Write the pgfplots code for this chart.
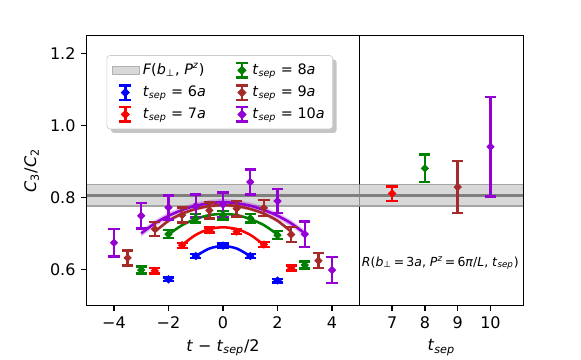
\documentclass[border=0pt]{standalone}
\usepackage{fontspec}
\setmainfont{DejaVu Sans}
\usepackage{amsmath}
\usepackage{pgfplots}
\pgfplotsset{compat=1.18}
\usetikzlibrary{shadows}

\definecolor{mplgreen}{RGB}{0,128,0}
\definecolor{mplbrown}{RGB}{165,42,42}
\definecolor{mplpurple}{RGB}{148,0,211}
\definecolor{bandfill}{RGB}{216,216,216}
\definecolor{bandedge}{RGB}{165,165,165}
\definecolor{bandmid}{RGB}{128,128,128}

% the legend's drop shadow is inherited by the paths inside it; this clears it
\makeatletter
\tikzset{nopreaction/.code={\let\tikz@preactions\pgfutil@empty}}
\makeatother

\pgfplotsset{
  mplaxis/.style={scale only axis, height=168.5pt, ymin=0.5, ymax=1.25,
    axis line style={line width=0.8pt}, tick style={line width=0.8pt, black},
    tick align=outside, major tick length=3.5pt, xtick pos=bottom, ytick pos=left,
    /pgf/number format/assume math mode=true,
    ticklabel style={font=\fontsize{10}{12}\selectfont},
    label style={font=\fontsize{10}{12}\selectfont}},
  errpts/.style={only marks, color=#1, mark=square*, mark size=1.6pt,
    mark options={fill=#1, draw=#1, line width=0.5pt, rotate=45}, forget plot,
    error bars/.cd, y dir=both, y explicit,
    error bar style={line width=1.5pt, color=#1},
    error mark options={rotate=90, line width=1.5pt, mark size=3.5pt, color=#1}},
  fitline/.style={color=#1, line width=1.6pt, smooth, forget plot},
  fitband/.style={fill=#1, fill opacity=0.25, draw=none, forget plot},
}

% legend handle: error bar with a diamond
\newcommand{\errleg}[2]{%
  \addlegendimage{legend image code/.code={%
    \draw[nopreaction,sharp corners,#1,line width=1.5pt] (8.8pt,-4.5pt)--(8.8pt,4.5pt) (5pt,-4.5pt)--(12.6pt,-4.5pt) (5pt,4.5pt)--(12.6pt,4.5pt);
    \fill[nopreaction,sharp corners,#1] (8.8pt,2.6pt)--(11.4pt,0pt)--(8.8pt,-2.6pt)--(6.2pt,0pt)--cycle;}}
  \addlegendentry{#2}}
\newcommand{\tsep}{\textit{t}$_{\textit{sep}}$}

\begin{document}
\begin{tikzpicture}
\path[use as bounding box] (0,0) rectangle (363.125pt,224.375pt);

\begin{axis}[mplaxis, at={(54.19pt,33.56pt)}, anchor=south west, width=170.4pt,
  xmin=-5, xmax=5,
  xtick={-4,-2,0,2,4}, xticklabels={−4,−2,0,2,4},
  ytick={0.6,0.8,1.0,1.2}, yticklabels={0.6,0.8,1.0,1.2},
  xlabel={\textit{t} − \tsep/2},
  ylabel={\textit{C}$_{\text{3}}$/\textit{C}$_{\text{2}}$},
  legend columns=2, legend cell align=left,
  legend style={at={(0.073,0.928)}, anchor=north west,
    font=\fontsize{9}{11}\selectfont, draw=black!20, rounded corners=2pt, fill=white,
    drop shadow={shadow xshift=2.5pt, shadow yshift=-2.5pt, fill=black!45},
    /tikz/every even column/.append style={column sep=16pt},
    row sep=1.5pt, inner sep=3pt},
]
% legend (column-major order as in the reference)
\addlegendimage{legend image code/.code={\filldraw[nopreaction,sharp corners,fill=bandfill,draw=black!30,line width=0.4pt] (0.5pt,-2.2pt) rectangle (17.5pt,2.2pt);}}
\addlegendentry{\textit{F}(\textit{b}$_{\text{⊥}}$, \textit{P}$^{\textit{z}}$)}
\errleg{mplgreen}{\tsep{} = 8\textit{a}}
\errleg{blue}{\tsep{} = 6\textit{a}}
\errleg{mplbrown}{\tsep{} = 9\textit{a}}
\errleg{red}{\tsep{} = 7\textit{a}}
\errleg{mplpurple}{\tsep{} = 10\textit{a}}

% F(b,P) band
\addplot[fill=bandfill, draw=none, forget plot] coordinates {(-5,0.776) (5,0.776) (5,0.836) (-5,0.836)} -- cycle;
\addplot[bandedge, line width=1pt, forget plot] coordinates {(-5,0.776) (5,0.776)};
\addplot[bandedge, line width=1pt, forget plot] coordinates {(-5,0.836) (5,0.836)};
\addplot[bandmid, line width=1.5pt, forget plot] coordinates {(-5,0.806) (5,0.806)};

% fit bands and curves
\addplot[fitband=mplbrown] coordinates {(-2.5,0.710) (-2,0.740) (-1.5,0.760) (-1,0.773) (-0.5,0.781) (0,0.784) (0.5,0.781) (1,0.773) (1.5,0.760) (2,0.740) (2.5,0.710)
  (2.5,0.700) (2,0.730) (1.5,0.750) (1,0.763) (0.5,0.771) (0,0.774) (-0.5,0.771) (-1,0.763) (-1.5,0.750) (-2,0.730) (-2.5,0.700)} -- cycle;
\addplot[fitband=mplpurple] coordinates {(-3,0.709) (-2.5,0.737) (-2,0.758) (-1.5,0.774) (-1,0.786) (-0.5,0.793) (0,0.796) (0.5,0.793) (1,0.786) (1.5,0.774) (2,0.758) (2.5,0.737) (3,0.709)
  (3,0.691) (2.5,0.719) (2,0.740) (1.5,0.756) (1,0.768) (0.5,0.775) (0,0.778) (-0.5,0.775) (-1,0.768) (-1.5,0.756) (-2,0.740) (-2.5,0.719) (-3,0.691)} -- cycle;

\addplot[fitline=blue] coordinates {(-1,0.637) (-0.5,0.658) (0,0.665) (0.5,0.658) (1,0.637)};
\addplot[fitline=red] coordinates {(-1.5,0.668) (-1,0.696) (-0.5,0.712) (0,0.717) (0.5,0.712) (1,0.696) (1.5,0.668)};
\addplot[fitline=mplgreen] coordinates {(-2,0.697) (-1.5,0.723) (-1,0.740) (-0.5,0.751) (0,0.754) (0.5,0.751) (1,0.740) (1.5,0.723) (2,0.697)};
\addplot[fitline=mplbrown] coordinates {(-2.5,0.705) (-2,0.735) (-1.5,0.755) (-1,0.768) (-0.5,0.776) (0,0.779) (0.5,0.776) (1,0.768) (1.5,0.755) (2,0.735) (2.5,0.705)};
\addplot[fitline=mplpurple] coordinates {(-3,0.700) (-2.5,0.728) (-2,0.749) (-1.5,0.765) (-1,0.777) (-0.5,0.784) (0,0.787) (0.5,0.784) (1,0.777) (1.5,0.765) (2,0.749) (2.5,0.728) (3,0.700)};

% data points
\addplot[errpts=blue] coordinates {(-2,0.572) +- (0,0.005) (-1,0.637) +- (0,0.006) (0,0.666) +- (0,0.006) (1,0.637) +- (0,0.006) (2,0.569) +- (0,0.005)};
\addplot[errpts=red] coordinates {(-2.5,0.596) +- (0,0.007) (-1.5,0.667) +- (0,0.007) (-0.5,0.709) +- (0,0.007) (0.5,0.705) +- (0,0.007) (1.5,0.669) +- (0,0.007) (2.5,0.604) +- (0,0.007)};
\addplot[errpts=mplgreen] coordinates {(-3,0.598) +- (0,0.010) (-2,0.698) +- (0,0.011) (-1,0.742) +- (0,0.012) (0,0.751) +- (0,0.012) (1,0.742) +- (0,0.012) (2,0.695) +- (0,0.011) (3,0.612) +- (0,0.010)};
\addplot[errpts=mplbrown] coordinates {(-3.5,0.632) +- (0,0.021) (-2.5,0.712) +- (0,0.020) (-1.5,0.751) +- (0,0.021) (-0.5,0.764) +- (0,0.022) (0.5,0.769) +- (0,0.022) (1.5,0.771) +- (0,0.022) (2.5,0.697) +- (0,0.021) (3.5,0.624) +- (0,0.021)};
\addplot[errpts=mplpurple] coordinates {(-4,0.674) +- (0,0.038) (-3,0.749) +- (0,0.035) (-2,0.772) +- (0,0.033) (-1,0.776) +- (0,0.032) (0,0.780) +- (0,0.034) (1,0.843) +- (0,0.035) (2,0.790) +- (0,0.034) (3,0.698) +- (0,0.035) (4,0.598) +- (0,0.036)};
\end{axis}

\begin{axis}[mplaxis, at={(224.56pt,33.56pt)}, anchor=south west, width=102.5pt,
  xmin=6, xmax=11, xtick={7,8,9,10}, ytick=\empty,
  xlabel={\tsep},
]
\addplot[fill=bandfill, draw=none, forget plot] coordinates {(6,0.776) (11,0.776) (11,0.836) (6,0.836)} -- cycle;
\addplot[bandedge, line width=1pt, forget plot] coordinates {(6,0.776) (11,0.776)};
\addplot[bandedge, line width=1pt, forget plot] coordinates {(6,0.836) (11,0.836)};
\addplot[bandmid, line width=1.5pt, forget plot] coordinates {(6,0.806) (11,0.806)};

\addplot[errpts=red] coordinates {(7,0.811) +- (0,0.020)};
\addplot[errpts=mplgreen] coordinates {(8,0.881) +- (0,0.038)};
\addplot[errpts=mplbrown] coordinates {(9,0.829) +- (0,0.073)};
\addplot[errpts=mplpurple] coordinates {(10,0.941) +- (0,0.138)};

\node[font=\fontsize{7.8}{9}\selectfont, inner sep=0pt] at (axis cs:8.47,0.617)
  {\textit{R}(\textit{b}$_{\text{⊥}}$\,=\,3\textit{a}, \textit{P}$^{\textit{z}}$\,=\,6\textit{π}/\textit{L}, \tsep)};
\end{axis}
\end{tikzpicture}
\end{document}
